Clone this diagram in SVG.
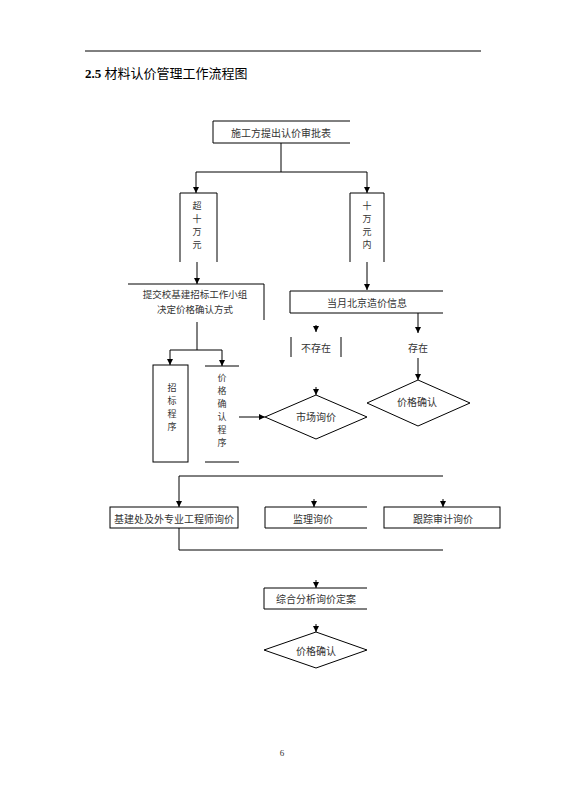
<svg xmlns="http://www.w3.org/2000/svg" width="565" height="799" viewBox="0 0 565 799">
<defs>
<marker id="ah" markerUnits="userSpaceOnUse" markerWidth="7" markerHeight="7" refX="6" refY="3" orient="auto">
<path d="M0,0 L6,3 L0,6 z" fill="#000"/>
</marker>
</defs>
<style>
.ln{fill:none;stroke:#000;stroke-width:1}
.ar{fill:none;stroke:#000;stroke-width:1;marker-end:url(#ah)}
.t{font-family:"Noto Sans CJK SC","Liberation Sans",sans-serif;font-size:10px;fill:#333;text-anchor:middle;dominant-baseline:central}
.tv{font-family:"Noto Sans CJK SC","Liberation Sans",sans-serif;font-size:9px;fill:#333;text-anchor:middle;dominant-baseline:central}
</style>
<rect width="565" height="799" fill="#fff"/>
<line x1="85" y1="51" x2="481" y2="51" stroke="#000" stroke-width="1"/>
<text x="85" y="78" font-family="'Liberation Serif','Noto Sans CJK SC',serif" font-size="13" fill="#000"><tspan font-weight="bold">2.5</tspan> <tspan font-family="'Noto Sans CJK SC',sans-serif">材料认价管理工作流程图</tspan></text>

<g id="connectors">
<path class="ln" d="M281,143 V172 M196,172 H367"/>
<path class="ar" d="M196,172 V193"/>
<path class="ar" d="M367,172 V193"/>
<path class="ar" d="M197,262 V284"/>
<path class="ar" d="M367,262 V290"/>
<path class="ar" d="M316,325 V332"/>
<path class="ar" d="M418,313 V333"/>
<path class="ar" d="M418,358 V380"/>
<path class="ar" d="M316,387 V395"/>
<path class="ln" d="M197,322 V350 M170,350 H222"/>
<path class="ar" d="M170,350 V365"/>
<path class="ar" d="M222,350 V366"/>
<path class="ar" d="M239,417 H265"/>
<path class="ln" d="M179,476 H443"/>
<path class="ar" d="M179,476 V507"/>
<path class="ar" d="M314,499 V507"/>
<path class="ar" d="M443,499 V507"/>
<path class="ln" d="M179,528 V550 H443"/>
<path class="ar" d="M316,580 V588"/>
<path class="ar" d="M316,624 V632"/>
</g>

<g id="n-submit">
<path class="ln" d="M350,121 H213 V143 H350"/>
<text class="t" x="281" y="132">施工方提出认价审批表</text>
</g>
<g id="n-over">
<path class="ln" d="M180,262 V193 H217 V262"/>
<text class="tv" x="197"><tspan x="197" y="205">超</tspan><tspan x="197" y="218">十</tspan><tspan x="197" y="231">万</tspan><tspan x="197" y="244">元</tspan></text>
</g>
<g id="n-under">
<path class="ln" d="M350,262 V193 H384 V262"/>
<text class="tv" x="367"><tspan x="367" y="205">十</tspan><tspan x="367" y="218">万</tspan><tspan x="367" y="231">元</tspan><tspan x="367" y="244">内</tspan></text>
</g>
<g id="n-group">
<path class="ln" d="M128,284 H264 V320"/>
<text class="t" style="font-size:9.5px" x="195" y="294">提交校基建招标工作小组</text>
<text class="t" style="font-size:9.5px" x="195" y="309">决定价格确认方式</text>
</g>
<g id="n-info">
<path class="ln" d="M443,291 H290 V313 H443"/>
<text class="t" x="367" y="302">当月北京造价信息</text>
</g>
<g id="n-notexist">
<path class="ln" d="M291,337 V357 M341,337 V357"/>
<text class="t" x="316" y="347">不存在</text>
</g>
<g id="n-exist">
<text class="t" x="418" y="347">存在</text>
</g>
<g id="n-confirm1">
<path class="ln" d="M418,380 L470,403 L418,426 L367,403 Z"/>
<text class="t" x="417" y="401">价格确认</text>
</g>
<g id="n-market">
<path class="ln" d="M316,395 L367,417 L316,439 L265,417 Z"/>
<text class="t" x="316" y="416">市场询价</text>
</g>
<g id="n-tender">
<rect class="ln" x="153" y="365" width="35" height="97"/>
<text class="tv" x="172"><tspan x="172" y="387">招</tspan><tspan x="172" y="400">标</tspan><tspan x="172" y="413">程</tspan><tspan x="172" y="426">序</tspan></text>
</g>
<g id="n-priceproc">
<path class="ln" d="M205,366 H239 M205,462 H239"/>
<text class="tv" x="222"><tspan x="222" y="377">价</tspan><tspan x="222" y="390">格</tspan><tspan x="222" y="403">确</tspan><tspan x="222" y="416">认</tspan><tspan x="222" y="429">程</tspan><tspan x="222" y="442">序</tspan></text>
</g>
<g id="n-engineer">
<rect class="ln" x="110" y="507" width="128" height="21"/>
<text class="t" x="174" y="518">基建处及外专业工程师询价</text>
</g>
<g id="n-supervisor">
<path class="ln" d="M367,507 H265 V528 H367"/>
<text class="t" x="313" y="518">监理询价</text>
</g>
<g id="n-audit">
<rect class="ln" x="384" y="507" width="116" height="21"/>
<text class="t" x="443" y="518">跟踪审计询价</text>
</g>
<g id="n-analysis">
<path class="ln" d="M367,588 H264 V609 H367"/>
<text class="t" x="316" y="598">综合分析询价定案</text>
</g>
<g id="n-confirm2">
<path class="ln" d="M316,632 L367,650 L316,668 L264,650 Z"/>
<text class="t" x="316" y="650">价格确认</text>
</g>
<text x="282" y="756" font-family="'Liberation Serif',serif" font-size="9" fill="#333" text-anchor="middle">6</text>
</svg>
